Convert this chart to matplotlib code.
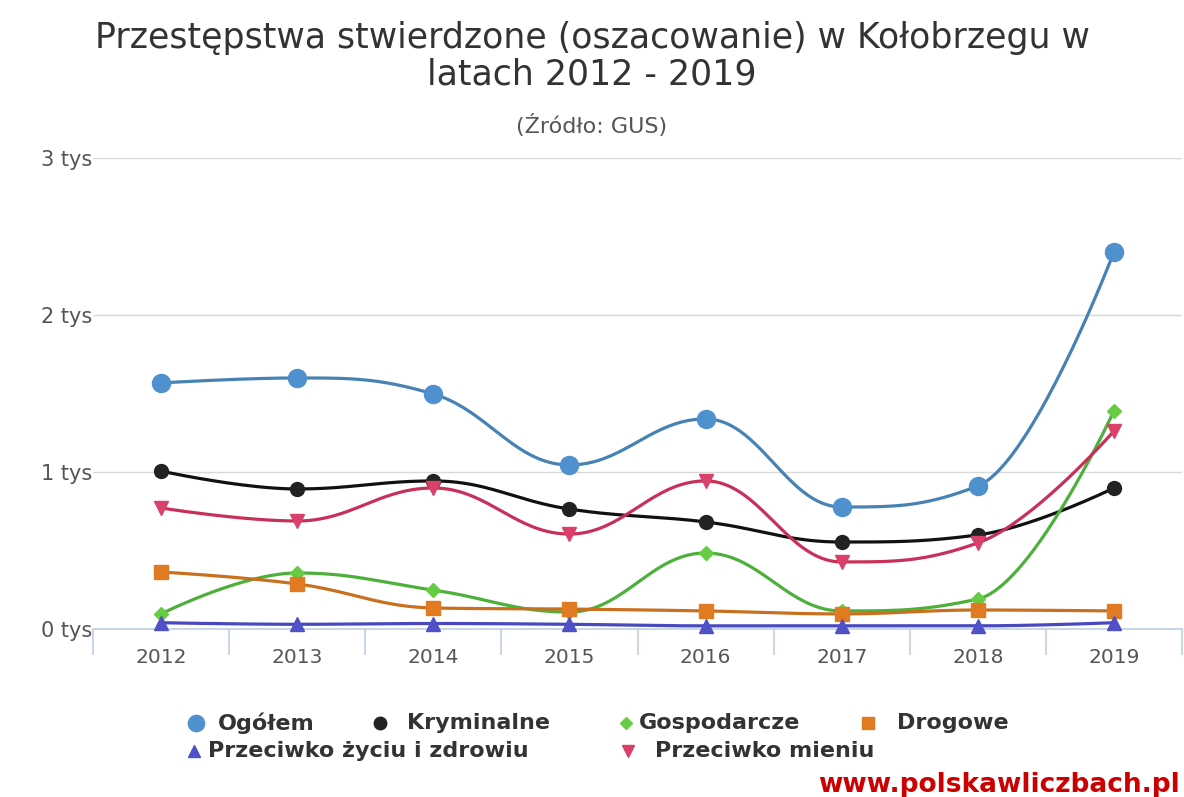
import numpy as np
import matplotlib
matplotlib.use("Agg")
import matplotlib.pyplot as plt
from matplotlib.lines import Line2D

# dane
years = ["2012", "2013", "2014", "2015", "2016", "2017", "2018", "2019"]
ogolem = [1567, 1599, 1497, 1045, 1338, 777, 911, 2401]
kryminalne = [1006, 892, 943, 764, 682, 554, 599, 898]
gospodarcze = [96, 357, 248, 108, 484, 115, 191, 1389]
drogowe = [363, 287, 134, 127, 115, 96, 121, 115]
zycie = [40, 30, 35, 30, 20, 20, 20, 40]
mienie = [771, 688, 898, 605, 943, 427, 548, 1261]
y_ticks = [0, 1000, 2000, 3000]
y_labels = ["0 tys", "1 tys", "2 tys", "3 tys"]

series = [
    ("Ogółem", ogolem, "#4682B4", "#4F90CE", "o", 13),
    ("Kryminalne", kryminalne, "#111111", "#222222", "o", 10),
    ("Gospodarcze", gospodarcze, "#4CB03A", "#66CC44", "D", 7),
    ("Drogowe", drogowe, "#C8701F", "#E07B22", "s", 10),
    ("Przeciwko życiu i zdrowiu", zycie, "#4848C0", "#5050C8", "^", 10),
    ("Przeciwko mieniu", mienie, "#C8305A", "#D9406A", "v", 10),
]


def spline(xs, ys, n=40):
    # wygładzanie w stylu highcharts (smoothing 1.5)
    xs = np.asarray(xs, float)
    ys = np.asarray(ys, float)
    m = len(xs)
    lc = [(xs[0], ys[0])] * m
    rc = [(xs[0], ys[0])] * m
    for i in range(m):
        if 0 < i < m - 1:
            px, py = xs[i - 1], ys[i - 1]
            nx, ny = xs[i + 1], ys[i + 1]
            x, y = xs[i], ys[i]
            lcx = (1.5 * x + px) / 2.5
            lcy = (1.5 * y + py) / 2.5
            rcx = (1.5 * x + nx) / 2.5
            rcy = (1.5 * y + ny) / 2.5
            corr = (rcy - lcy) * (rcx - x) / (rcx - lcx) + y - rcy
            lcy += corr
            rcy += corr
            if lcy > py and lcy > y:
                lcy = max(py, y)
                rcy = 2 * y - lcy
            elif lcy < py and lcy < y:
                lcy = min(py, y)
                rcy = 2 * y - lcy
            if rcy > ny and rcy > y:
                rcy = max(ny, y)
                lcy = 2 * y - rcy
            elif rcy < ny and rcy < y:
                rcy = min(ny, y)
                lcy = 2 * y - rcy
            lc[i] = (lcx, lcy)
            rc[i] = (rcx, rcy)
        else:
            lc[i] = (xs[i], ys[i])
            rc[i] = (xs[i], ys[i])
    t = np.linspace(0, 1, n)[:, None]
    out = []
    for i in range(m - 1):
        p0 = np.array([xs[i], ys[i]])
        p1 = np.array(rc[i])
        p2 = np.array(lc[i + 1])
        p3 = np.array([xs[i + 1], ys[i + 1]])
        seg = ((1 - t) ** 3) * p0 + 3 * ((1 - t) ** 2) * t * p1 + 3 * (1 - t) * t ** 2 * p2 + t ** 3 * p3
        out.append(seg)
    pts = np.vstack(out)
    return pts[:, 0], pts[:, 1]


fig = plt.figure(figsize=(11.84, 7.97), dpi=100)
ax = fig.add_axes([93 / 1184, 1 - 629 / 797, (1182 - 93) / 1184, (629 - 158) / 797])

x = np.arange(len(years))
for name, vals, lc_, mc, mk, ms in series:
    sx, sy = spline(x, vals)
    ax.plot(sx, sy, color=lc_, lw=2.3, zorder=2, solid_capstyle="round")
    ax.plot(x, vals, linestyle="none", marker=mk, markersize=ms, markerfacecolor=mc,
            markeredgecolor=mc, zorder=3, clip_on=False)

ax.set_xlim(-0.5, len(years) - 0.5)
ax.set_ylim(0, 3000)
ax.set_yticks(y_ticks)
ax.set_yticklabels(y_labels)
ax.set_xticks(x)
ax.set_xticklabels(years)
ax.set_xticks(np.arange(-0.5, len(years), 1), minor=True)
ax.grid(axis="y", color="#D8D8D8", lw=1)
ax.set_axisbelow(True)
for s in ["top", "right", "left"]:
    ax.spines[s].set_visible(False)
ax.spines["bottom"].set_color("#C0D0E0")
ax.spines["bottom"].set_linewidth(1.2)
ax.tick_params(axis="x", which="major", length=0, pad=14, labelsize=14.5, labelcolor="#555555")
ax.tick_params(axis="x", which="minor", length=19, color="#C0D0E0", width=1.2)
ax.tick_params(axis="y", length=0, labelsize=15, labelcolor="#555555", pad=4)
for lab in ax.get_yticklabels():
    lab.set_horizontalalignment("left")
    lab.set_x(-53 / 1089)
    lab.set_x(-53 / 1089)
ax.tick_params(axis="y", pad=-1)

fig.text(0.5, 1 - 56 / 797, "Przestępstwa stwierdzone (oszacowanie) w Kołobrzegu w\nlatach 2012 - 2019",
         ha="center", va="center", fontsize=25, color="#333333", linespacing=1.1)
fig.text(0.5, 1 - 126 / 797, "(Źródło: GUS)", ha="center", va="center", fontsize=16, color="#555555")

# legenda
leg_pos = [(196, 723, 218), (380, 723, 407), (626, 723, 639), (868, 723, 897),
           (194, 751, 208), (628, 751, 655)]
for (name, vals, lc_, mc, mk, ms), (mx, my, tx) in zip(series, leg_pos):
    fig.add_artist(Line2D([mx / 1184], [1 - my / 797], marker=mk, markersize=ms * 0.9,
                          markerfacecolor=mc, markeredgecolor=mc, linestyle="none",
                          transform=fig.transFigure))
    fig.text(tx / 1184, 1 - my / 797, name, ha="left", va="center", fontsize=16,
             fontweight="bold", color="#333333")

fig.text(1180 / 1184, 1 - 785 / 797, "www.polskawliczbach.pl", ha="right", va="center",
         fontsize=19, fontweight="bold", color="#CC0000")

fig.savefig("out.png", dpi=100)
